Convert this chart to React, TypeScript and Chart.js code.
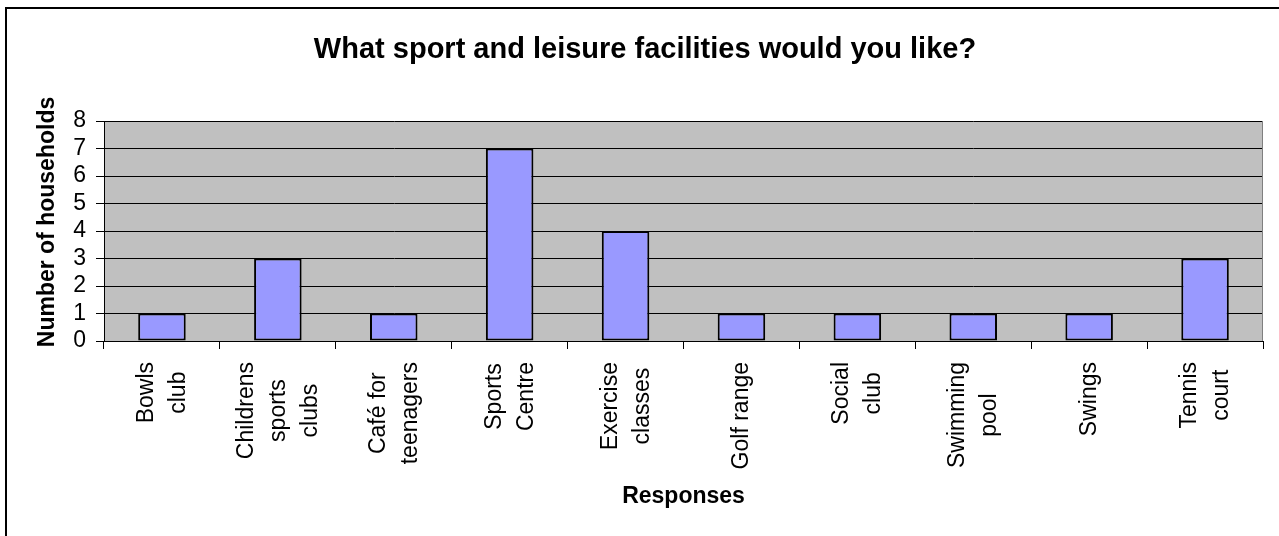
import React, { useEffect, useRef } from "react";
import { Chart, registerables } from "chart.js";

Chart.register(...registerables);

// ---- data ----
const categories: string[][] = [
  ["Bowls", "club"],
  ["Childrens", "sports", "clubs"],
  ["Café for", "teenagers"],
  ["Sports", "Centre"],
  ["Exercise", "classes"],
  ["Golf range"],
  ["Social", "club"],
  ["Swimming", "pool"],
  ["Swings"],
  ["Tennis", "court"],
];
const households: number[] = [1, 3, 1, 7, 4, 1, 1, 1, 1, 3];
const yMin = 0;
const yMax = 8;
const yStep = 1;
const chartTitle = "What sport and leisure facilities would you like?";
const xAxisTitle = "Responses";
const yAxisTitle = "Number of households";

const FONT = "'Liberation Sans', Arial, Helvetica, sans-serif";

const decorPlugin = {
  id: "decor",
  beforeDraw(chart: any) {
    const { ctx, chartArea: a } = chart;
    ctx.save();
    ctx.fillStyle = "#C0C0C0";
    ctx.fillRect(a.left, a.top, a.right - a.left, a.bottom - a.top);
    ctx.restore();
  },
  afterDraw(chart: any) {
    const { ctx, chartArea: a } = chart;
    const xs = chart.scales.x;
    ctx.save();
    // plot-area right edge
    ctx.strokeStyle = "#808080";
    ctx.lineWidth = 1;
    ctx.beginPath();
    ctx.moveTo(Math.round(a.right) - 0.5, a.top);
    ctx.lineTo(Math.round(a.right) - 0.5, a.bottom);
    ctx.stroke();

    ctx.fillStyle = "#000";
    ctx.textAlign = "center";
    ctx.textBaseline = "alphabetic";

    // chart title
    ctx.font = `bold 29px ${FONT}`;
    ctx.fillText(chartTitle, 645, 58);

    // axis titles
    ctx.font = `bold 23px ${FONT}`;
    ctx.fillText(xAxisTitle, (a.left + a.right) / 2, 503);
    ctx.save();
    ctx.translate(54, 222);
    ctx.rotate(-Math.PI / 2);
    ctx.fillText(yAxisTitle, 0, 0);
    ctx.restore();

    // category labels (rotated, centred lines)
    ctx.font = `23px ${FONT}`;
    categories.forEach((lines, i) => {
      const cx = xs.getPixelForTick(i);
      const maxW = Math.max(...lines.map((l) => ctx.measureText(l).width));
      const cy = a.bottom + 21 + maxW / 2;
      lines.forEach((line, j) => {
        const bx = cx + (j - (lines.length - 1) / 2) * 32 + 7;
        ctx.save();
        ctx.translate(bx, cy);
        ctx.rotate(-Math.PI / 2);
        ctx.fillText(line, 0, 0);
        ctx.restore();
      });
    });
    ctx.restore();
  },
};

export default function App() {
  const canvasRef = useRef<HTMLCanvasElement | null>(null);

  useEffect(() => {
    const canvas = canvasRef.current;
    if (!canvas) return;
    const chart = new Chart(canvas, {
      type: "bar",
      data: {
        labels: categories,
        datasets: [
          {
            data: households,
            backgroundColor: "#9999FF",
            borderColor: "#000000",
            borderWidth: 2,
            borderSkipped: false,
            barPercentage: 0.41,
            categoryPercentage: 1,
          },
        ],
      },
      options: {
        responsive: false,
        maintainAspectRatio: false,
        animation: false,
        devicePixelRatio: 1,
        layout: { padding: { top: 121, right: 16, left: 0, bottom: 0 } },
        plugins: {
          legend: { display: false },
          title: { display: false },
          tooltip: { enabled: false },
        },
        scales: {
          x: {
            offset: true,
            grid: {
              display: true,
              offset: true,
              drawOnChartArea: false,
              drawTicks: true,
              tickLength: 8,
              color: "#000",
              lineWidth: 1,
            },
            border: { display: true, color: "#000", width: 1 },
            ticks: { display: false, autoSkip: false },
            afterFit: (scale: any) => {
              scale.height = 195;
            },
          },
          y: {
            min: yMin,
            max: yMax,
            grid: {
              color: "#000",
              lineWidth: 1,
              drawTicks: true,
              tickLength: 8,
            },
            border: { display: true, color: "#000", width: 1 },
            ticks: {
              stepSize: yStep,
              autoSkip: false,
              color: "#000",
              padding: 10,
              font: { family: FONT, size: 23 },
            },
            afterFit: (scale: any) => {
              scale.width = 104;
            },
          },
        },
      },
      plugins: [decorPlugin],
    });
    return () => chart.destroy();
  }, []);

  return (
    <div
      style={{
        position: "fixed",
        left: 0,
        top: 0,
        width: 1279,
        height: 536,
        background: "#fff",
        overflow: "hidden",
      }}
    >
      <div
        style={{
          position: "absolute",
          left: 5,
          top: 7,
          width: 1300,
          height: 560,
          borderTop: "2px solid #000",
          borderLeft: "2px solid #000",
          boxSizing: "border-box",
        }}
      />
      <canvas
        ref={canvasRef}
        width={1279}
        height={536}
        style={{ position: "absolute", left: 0, top: 0, width: 1279, height: 536 }}
      />
    </div>
  );
}
